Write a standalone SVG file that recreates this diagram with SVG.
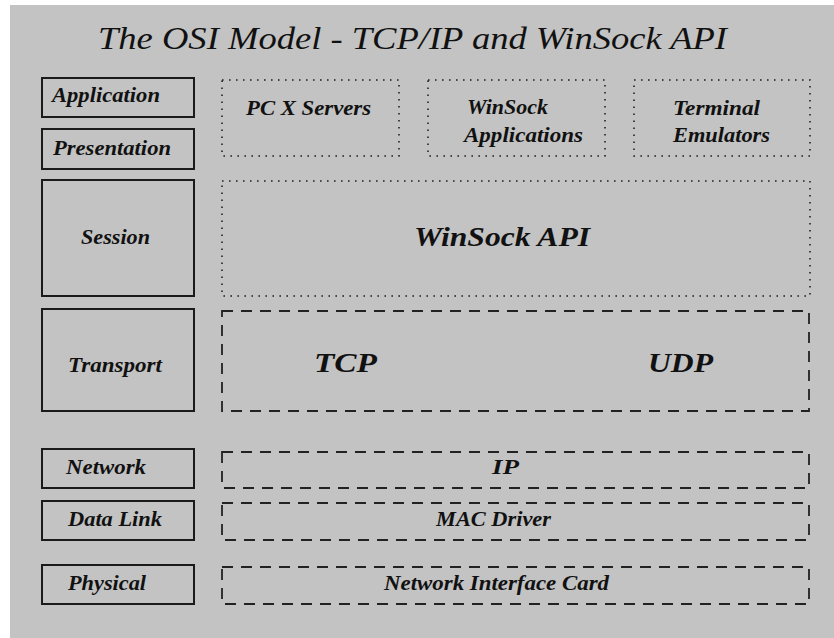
<svg xmlns="http://www.w3.org/2000/svg" width="834" height="638" viewBox="0 0 834 638">
<style>
.bg{fill:#c3c3c3}
.osi{fill:none;stroke:#1a1a1a;stroke-width:2}
.dot{fill:none;stroke:#222;stroke-width:1.6;stroke-dasharray:1.6 5.4}
.dash{fill:none;stroke:#222;stroke-width:1.8;stroke-dasharray:11 8}
text{font-family:"Liberation Serif","Times New Roman",serif;fill:#111}
.lbl{font-size:20px;font-weight:bold;font-style:italic}
.big{font-size:27px;font-weight:bold;font-style:italic}
.title{font-size:32px;font-style:italic}
</style>
<rect x="0" y="0" width="834" height="638" fill="#ffffff"/>
<rect class="bg" x="10" y="5" width="824" height="633"/>
<g id="title"><text class="title" x="98" y="49" textLength="629" lengthAdjust="spacingAndGlyphs">The OSI Model - TCP/IP and WinSock API</text></g>

<g id="application"><rect class="osi" x="42" y="78" width="152" height="39"/><text class="lbl" x="52" y="102" textLength="108" lengthAdjust="spacingAndGlyphs">Application</text></g>
<g id="presentation"><rect class="osi" x="42" y="129" width="152" height="40"/><text class="lbl" x="53" y="155" textLength="118" lengthAdjust="spacingAndGlyphs">Presentation</text></g>
<g id="session"><rect class="osi" x="42" y="180" width="152" height="116"/><text class="lbl" x="81" y="244" textLength="69" lengthAdjust="spacingAndGlyphs">Session</text></g>
<g id="transport"><rect class="osi" x="42" y="309" width="152" height="102"/><text class="lbl" x="68" y="372" textLength="94" lengthAdjust="spacingAndGlyphs">Transport</text></g>
<g id="network"><rect class="osi" x="42" y="449" width="152" height="39"/><text class="lbl" x="66" y="474" textLength="80" lengthAdjust="spacingAndGlyphs">Network</text></g>
<g id="datalink"><rect class="osi" x="42" y="501" width="152" height="39"/><text class="lbl" x="68" y="526" textLength="94" lengthAdjust="spacingAndGlyphs">Data Link</text></g>
<g id="physical"><rect class="osi" x="42" y="565" width="152" height="39"/><text class="lbl" x="68" y="590" textLength="78" lengthAdjust="spacingAndGlyphs">Physical</text></g>

<g id="pcxservers"><rect class="dot" x="222" y="80" width="177" height="76"/><text class="lbl" x="246" y="115" textLength="125" lengthAdjust="spacingAndGlyphs">PC X Servers</text></g>
<g id="winsockapps"><rect class="dot" x="428" y="80" width="177" height="76"/><text class="lbl" x="467" y="114" textLength="81" lengthAdjust="spacingAndGlyphs">WinSock</text><text class="lbl" x="464" y="142" textLength="119" lengthAdjust="spacingAndGlyphs">Applications</text></g>
<g id="terminal"><rect class="dot" x="634" y="80" width="176" height="76"/><text class="lbl" x="673" y="115" textLength="87" lengthAdjust="spacingAndGlyphs">Terminal</text><text class="lbl" x="673" y="142" textLength="97" lengthAdjust="spacingAndGlyphs">Emulators</text></g>
<g id="winsockapi"><rect class="dot" x="222" y="181" width="588" height="115"/><text class="big" x="414" y="246" textLength="176" lengthAdjust="spacingAndGlyphs">WinSock API</text></g>
<g id="tcpudp"><rect class="dash" x="222" y="311" width="587" height="100"/><text class="big" x="314" y="372" textLength="63" lengthAdjust="spacingAndGlyphs">TCP</text><text class="big" x="648" y="372" textLength="65" lengthAdjust="spacingAndGlyphs">UDP</text></g>
<g id="ip"><rect class="dash" x="222" y="452" width="587" height="36"/><text class="lbl" x="492" y="474" textLength="27" lengthAdjust="spacingAndGlyphs">IP</text></g>
<g id="macdriver"><rect class="dash" x="222" y="503" width="587" height="37"/><text class="lbl" x="436" y="526" textLength="115" lengthAdjust="spacingAndGlyphs">MAC Driver</text></g>
<g id="nic"><rect class="dash" x="222" y="567" width="587" height="37"/><text class="lbl" x="384" y="590" textLength="225" lengthAdjust="spacingAndGlyphs">Network Interface Card</text></g>
</svg>
